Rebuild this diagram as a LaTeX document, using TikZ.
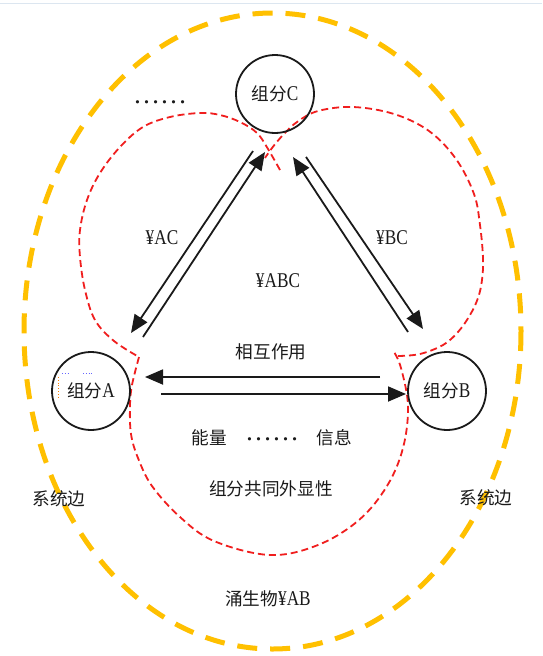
\documentclass[tikz,border=0pt]{standalone}
\usepackage{fontspec}
\setmainfont[FakeStretch=0.82]{Liberation Serif}
\newfontfamily\cjk[Scale=0.84]{Noto Sans CJK SC}
\newfontfamily\plainserif{Liberation Serif}
\usetikzlibrary{arrows.meta}
\definecolor{gold}{HTML}{FFC000}
\definecolor{dred}{HTML}{F01E1E}
\definecolor{ink}{HTML}{1A1A1A}
\definecolor{topline}{HTML}{DCE6F0}
\begin{document}
\begin{tikzpicture}[x=1pt,y=-1pt,
 comp/.style={circle,draw=ink,line width=1.8pt,minimum size=78pt,inner sep=0pt,font=\fontsize{21}{24}\selectfont,text=ink},
 lbl/.style={inner sep=0pt,font=\fontsize{21}{24}\selectfont,text=ink},
 dots/.style={inner sep=0pt,anchor=base,font=\plainserif\fontsize{27}{30}\selectfont,text=ink},
 flow/.style={draw=ink,line width=1.8pt,-{Triangle[length=18pt,width=15pt]}},
 boundary/.style={draw=gold,line width=5pt,dash pattern=on 20pt off 13pt},
 zone/.style={draw=dred,line width=1.8pt,dash pattern=on 7pt off 4pt}
]
\useasboundingbox (0,0) rectangle (542,656);
\fill[white] (0,0) rectangle (542,656);
\draw[topline,line width=1pt] (0,3) -- (542,3);
% system boundary
\draw[boundary] (272.5,331) ellipse [x radius=248.5, y radius=318];
% red zones
\draw[zone] plot[smooth,tension=0.6] coordinates {(280,170) (268,149) (257,133) (240,122) (220,115) (200,113) (170,117) (143,127) (120,147) (100,173) (87,200) (80,230) (80,257) (85,290) (95,320) (114,341) (139,357)};
\draw[zone] plot[smooth,tension=0.6] coordinates {(139,357) (132,385) (130,406) (131,434) (138,458) (152,486) (180,517) (214,541) (270,555) (318,545) (359,520) (387,486) (403,448) (408,406) (401,368) (394,352)};
\draw[zone] plot[smooth,tension=0.6] coordinates {(398,356) (420,354) (443,345) (458,332) (470,315) (478,298) (482,280) (483,258) (480,225) (474,194) (456,159) (429,131) (394,114) (353,107) (318,111) (297,122) (283,135) (272,148) (265,158)};
% components
\node[comp] (A) at (91,391) {{\cjk 组分}A};
\node[comp] (B) at (447,391) {{\cjk 组分}B};
\node[comp] (C) at (275,94) {{\cjk 组分}C};
% leftover text-box marks near A
\draw[blue!60,line width=0.8pt,dotted] (62,373) -- (70,373) (83,373) -- (92,373);
\draw[orange,line width=0.8pt,dotted] (58,377) -- (58,399);
% arrow ends
\coordinate (ac1) at (253,151); \coordinate (ac2) at (131,333);
\coordinate (ca1) at (143,337); \coordinate (ca2) at (265,152);
\coordinate (bc1) at (306,157); \coordinate (bc2) at (423,329);
\coordinate (cb1) at (408,332); \coordinate (cb2) at (293,157);
\coordinate (ba1) at (380,377); \coordinate (ba2) at (145,377);
\coordinate (ab1) at (161,394); \coordinate (ab2) at (406,394);
\draw[flow] (ac1) -- (ac2);
\draw[flow] (ca1) -- (ca2);
\draw[flow] (bc1) -- (bc2);
\draw[flow] (cb1) -- (cb2);
\draw[flow] (ba1) -- (ba2);
\draw[flow] (ab1) -- (ab2);
% labels
\node[dots] (d1) at (160,103) {……};
\node[lbl] (yac) at (162,238) {¥AC};
\node[lbl] (ybc) at (392,238) {¥BC};
\node[lbl] (yabc) at (278,281) {¥ABC};
\node[lbl] (inter) at (271,352) {\cjk 相互作用};
\node[lbl] (energy) at (209,438) {\cjk 能量};
\node[dots] (d2) at (272,440) {……};
\node[lbl] (info) at (334,438) {\cjk 信息};
\node[lbl] (common) at (271,489) {\cjk 组分共同外显性};
\node[lbl] (edgeL) at (59,499) {\cjk 系统边};
\node[lbl] (edgeR) at (486,498) {\cjk 系统边};
\node[lbl] (emerg) at (268,599) {{\cjk 涌生物}¥AB};
\end{tikzpicture}
\end{document}
